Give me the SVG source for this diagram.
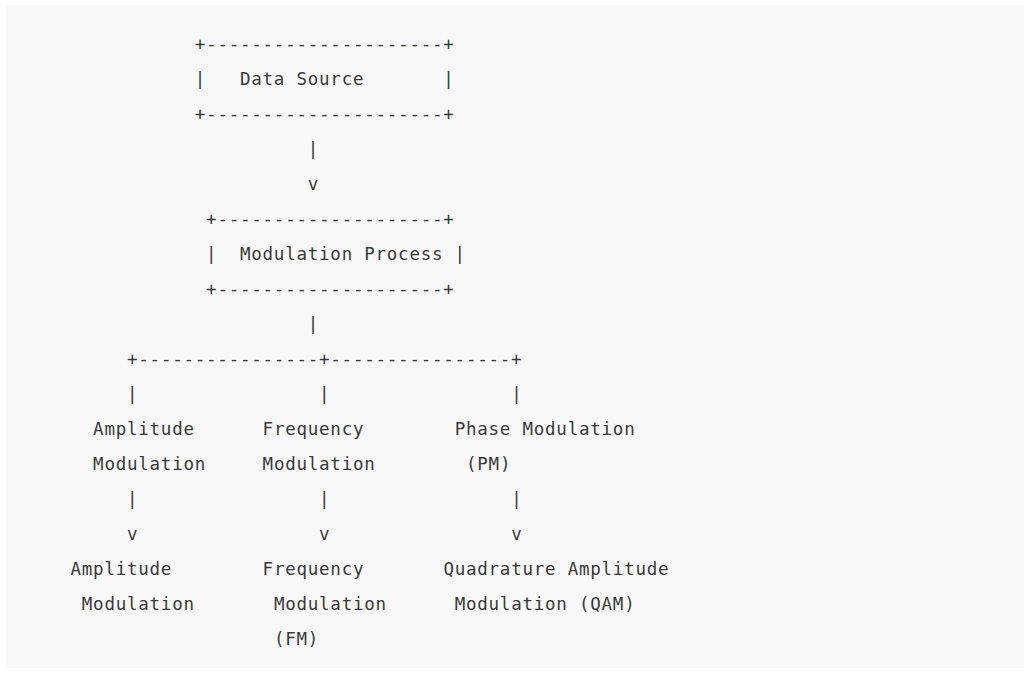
<svg xmlns="http://www.w3.org/2000/svg" width="1024" height="673" viewBox="0 0 1024 673" xml:space="preserve">
<style>
text{font-family:"DejaVu Sans Mono","Liberation Mono",monospace;font-size:17.5px;letter-spacing:0.76px;fill:#383838;white-space:pre}
</style>
<rect x="0" y="0" width="1024" height="673" fill="#ffffff"/>
<rect x="6" y="5" width="1018" height="663" fill="#f8f8f8"/>
<g id="data-source">
<text x="194.8" y="50">+---------------------+</text>
<text x="194.8" y="85">|   Data Source       |</text>
<text x="194.8" y="120">+---------------------+</text>
</g>
<g id="modulation-process">
<text x="206.1" y="225">+--------------------+</text>
<text x="206.1" y="260">|  Modulation Process |</text>
<text x="206.1" y="295">+--------------------+</text>
</g>
<g id="connectors">
<text x="307.8" y="155">|</text>
<text x="307.8" y="190">v</text>
<text x="307.8" y="330">|</text>
<text x="127.0" y="365">+----------------+----------------+</text>
<text x="127.0" y="400">|</text>
<text x="319.1" y="400">|</text>
<text x="511.2" y="400">|</text>
<text x="127.0" y="505">|</text>
<text x="319.1" y="505">|</text>
<text x="511.2" y="505">|</text>
<text x="127.0" y="540">v</text>
<text x="319.1" y="540">v</text>
<text x="511.2" y="540">v</text>
</g>
<g id="amplitude-modulation">
<text x="93.1" y="435">Amplitude</text>
<text x="93.1" y="470">Modulation</text>
</g>
<g id="frequency-modulation">
<text x="262.6" y="435">Frequency</text>
<text x="262.6" y="470">Modulation</text>
</g>
<g id="phase-modulation">
<text x="454.7" y="435">Phase Modulation</text>
<text x="466.0" y="470">(PM)</text>
</g>
<g id="amplitude-modulation-out">
<text x="70.5" y="575">Amplitude</text>
<text x="81.8" y="610">Modulation</text>
</g>
<g id="frequency-modulation-fm">
<text x="262.6" y="575">Frequency</text>
<text x="273.9" y="610">Modulation</text>
<text x="273.9" y="645">(FM)</text>
</g>
<g id="qam">
<text x="443.4" y="575">Quadrature Amplitude</text>
<text x="454.7" y="610">Modulation (QAM)</text>
</g>
</svg>
